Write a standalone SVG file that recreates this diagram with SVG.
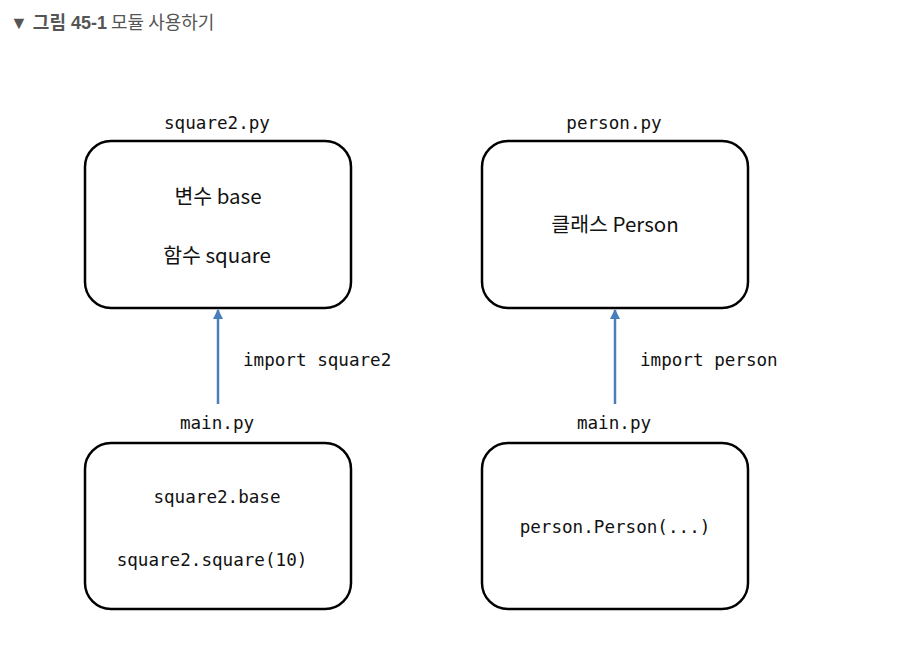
<svg xmlns="http://www.w3.org/2000/svg" width="916" height="663" viewBox="0 0 916 663">
<style>
.box{fill:#fff;stroke:#000;stroke-width:2.5}
.mono{font-family:"DejaVu Sans Mono","Liberation Mono",monospace;font-size:17.6px;fill:#111}
.kr{font-family:"Noto Sans CJK KR","Noto Sans",sans-serif;font-size:20.5px;fill:#111}
.conn{stroke:#4a7ebb;stroke-width:2.5;fill:none}
.title{font-family:"Noto Sans CJK KR","Noto Sans",sans-serif;font-size:18px;fill:#555}
</style>
<defs>
<marker id="ah" viewBox="0 0 10 10" refX="9" refY="5" markerWidth="4" markerHeight="4" orient="auto">
<path d="M0,0 L10,5 L0,10 z" fill="#4a7ebb"/>
</marker>
</defs>
<rect width="916" height="663" fill="#fff"/>
<text class="title" x="10" y="29"><tspan font-weight="bold" font-family="Liberation Sans, Noto Sans CJK KR, sans-serif">▼ 그림 45-1</tspan> 모듈 사용하기</text>

<g id="square2">
<text class="mono" x="217" y="129" text-anchor="middle">square2.py</text>
<rect class="box" x="85" y="141" width="266" height="167" rx="26"/>
<text class="kr" x="218" y="204" text-anchor="middle">변수 base</text>
<text class="kr" x="217" y="263" text-anchor="middle">함수 square</text>
</g>

<g id="person">
<text class="mono" x="614" y="129" text-anchor="middle">person.py</text>
<rect class="box" x="482" y="141" width="266" height="167" rx="26"/>
<text class="kr" x="615" y="232" text-anchor="middle">클래스 Person</text>
</g>

<g id="main1">
<text class="mono" x="217" y="429" text-anchor="middle">main.py</text>
<rect class="box" x="85" y="443" width="266" height="166" rx="26"/>
<text class="mono" x="217" y="503" text-anchor="middle">square2.base</text>
<text class="mono" x="212" y="566" text-anchor="middle">square2.square(10)</text>
</g>

<g id="main2">
<text class="mono" x="614" y="429" text-anchor="middle">main.py</text>
<rect class="box" x="482" y="443" width="266" height="166" rx="26"/>
<text class="mono" x="615" y="533" text-anchor="middle">person.Person(...)</text>
</g>

<g id="connectors">
<line class="conn" x1="218" y1="404" x2="218" y2="310" marker-end="url(#ah)"/>
<line class="conn" x1="615" y1="404" x2="615" y2="310" marker-end="url(#ah)"/>
<text class="mono" x="243" y="366">import square2</text>
<text class="mono" x="640" y="366">import person</text>
</g>
</svg>
